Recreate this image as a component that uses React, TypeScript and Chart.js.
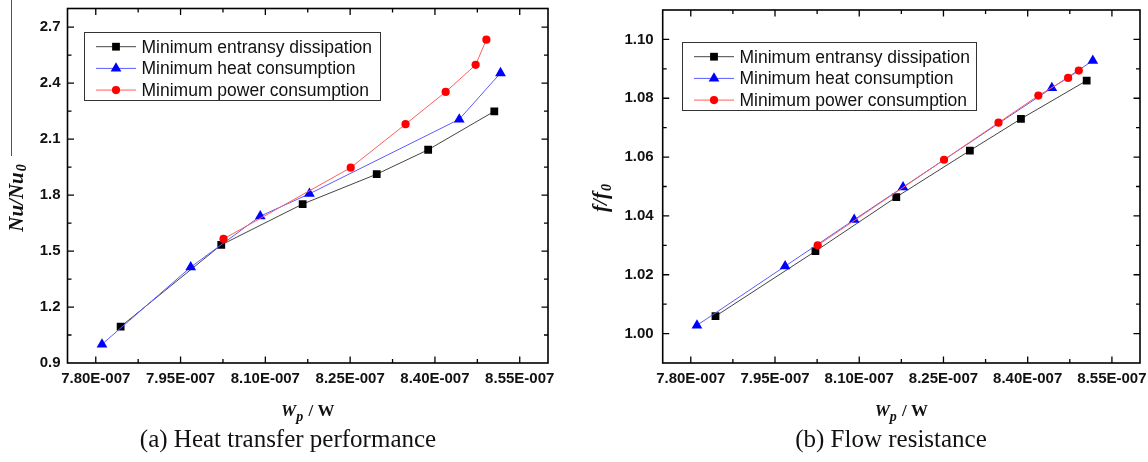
import React, { useEffect, useRef } from "react";
import { Chart, registerables } from "chart.js";

Chart.register(...registerables);

// ---------------- data ----------------
const seriesNames = [
  "Minimum entransy dissipation",
  "Minimum heat consumption",
  "Minimum power consumption",
];

// pumping power Wp (W) for each optimisation criterion
const entransyWp = [7.844e-7, 8.022e-7, 8.166e-7, 8.297e-7, 8.388e-7, 8.505e-7];
const heatWp = [7.811e-7, 7.968e-7, 8.091e-7, 8.178e-7, 8.443e-7, 8.516e-7];
const powerWp = [8.026e-7, 8.251e-7, 8.348e-7, 8.419e-7, 8.472e-7, 8.491e-7];

// (a) Nu/Nu0
const entransyNu = [1.095, 1.533, 1.752, 1.912, 2.043, 2.249];
const heatNu = [1.0, 1.414, 1.687, 1.807, 2.206, 2.454];
const powerNu = [1.565, 1.947, 2.18, 2.353, 2.498, 2.633];

// (b) f/f0
const entransyF = [1.0059, 1.028, 1.0464, 1.0622, 1.073, 1.086];
const heatF = [1.0028, 1.0229, 1.0387, 1.0498, 1.0835, 1.0928];
const powerF = [1.03, 1.0591, 1.0717, 1.0809, 1.0869, 1.0894];

const wpTicks = [7.8e-7, 7.95e-7, 8.1e-7, 8.25e-7, 8.4e-7, 8.55e-7];
const wpTickLabels = ["7.80E-007", "7.95E-007", "8.10E-007", "8.25E-007", "8.40E-007", "8.55E-007"];
const nuTicks = [0.9, 1.2, 1.5, 1.8, 2.1, 2.4, 2.7];
const nuTickLabels = ["0.9", "1.2", "1.5", "1.8", "2.1", "2.4", "2.7"];
const fTicks = [1.0, 1.02, 1.04, 1.06, 1.08, 1.1];
const fTickLabels = ["1.00", "1.02", "1.04", "1.06", "1.08", "1.10"];

const captionA = "(a) Heat transfer performance";
const captionB = "(b) Flow resistance";

// ---------------- styles ----------------
const seriesStyles = [
  { line: "#444444", fill: "#000000", shape: "rect", r: 5.5 },
  { line: "#5c5cff", fill: "#0000ff", shape: "triangle", r: 6.2 },
  { line: "#ff5e5e", fill: "#ff0000", shape: "circle", r: 4.1 },
];

const SANS = '"Liberation Sans", Arial, sans-serif';
const SERIF = '"Liberation Serif", "Times New Roman", serif';

function midpoints(arr: number[]) {
  const out: number[] = [];
  for (let i = 0; i < arr.length - 1; i++) out.push((arr[i] + arr[i + 1]) / 2);
  return out;
}

function drawMarker(ctx: CanvasRenderingContext2D, shape: string, x: number, y: number, r: number, color: string) {
  ctx.fillStyle = color;
  ctx.beginPath();
  if (shape === "rect") {
    const s = Math.SQRT1_2 * r;
    ctx.rect(x - s, y - s, 2 * s, 2 * s);
  } else if (shape === "triangle") {
    ctx.moveTo(x, y - r);
    ctx.lineTo(x + 0.866 * r, y + 0.5 * r);
    ctx.lineTo(x - 0.866 * r, y + 0.5 * r);
    ctx.closePath();
  } else {
    ctx.arc(x, y, r, 0, Math.PI * 2);
  }
  ctx.fill();
}

type PanelProps = {
  left: number;
  width: number;
  height: number;
  area: { left: number; top: number; right: number; bottom: number };
  yVals: number[][];
  yMin: number;
  yMax: number;
  yTicks: number[];
  yLabels: string[];
  yLabelPad: number;
  legend: { x: number; y: number; w: number; h: number };
  yTitleMain: string;
  yTitleSub: string;
  yTitlePos: { x: number; y: number };
};

function Panel(p: PanelProps) {
  const ref = useRef<HTMLCanvasElement | null>(null);

  useEffect(() => {
    if (!ref.current) return;
    const xs = [entransyWp, heatWp, powerWp];
    const datasets = seriesNames.map((name, i) => ({
      label: name,
      data: xs[i].map((x, j) => ({ x, y: p.yVals[i][j] })),
      showLine: true,
      borderColor: seriesStyles[i].line,
      borderWidth: 1,
      pointStyle: seriesStyles[i].shape,
      pointRadius: seriesStyles[i].r,
      pointBackgroundColor: seriesStyles[i].fill,
      pointBorderColor: seriesStyles[i].fill,
      pointBorderWidth: 0,
      order: 3 - i,
    }));

    const decor = {
      id: "decor",
      afterDraw(chart: any) {
        const ctx: CanvasRenderingContext2D = chart.ctx;
        const a = chart.chartArea;
        const xs = chart.scales.x;
        const ys = chart.scales.y;
        ctx.save();
        // ticks (inward on all sides)
        ctx.strokeStyle = "#000";
        ctx.lineWidth = 1.3;
        const MAJ = 6.5;
        const MIN = 4;
        const xMinor = midpoints(wpTicks);
        const yMinor = midpoints(p.yTicks);
        const drawX = (v: number, len: number) => {
          const px = xs.getPixelForValue(v);
          if (px <= a.left + 1 || px >= a.right - 1) return;
          ctx.beginPath();
          ctx.moveTo(px, a.bottom);
          ctx.lineTo(px, a.bottom - len);
          ctx.moveTo(px, a.top);
          ctx.lineTo(px, a.top + len);
          ctx.stroke();
        };
        const drawY = (v: number, len: number) => {
          const py = ys.getPixelForValue(v);
          if (py <= a.top + 1 || py >= a.bottom - 1) return;
          ctx.beginPath();
          ctx.moveTo(a.left, py);
          ctx.lineTo(a.left + len, py);
          ctx.moveTo(a.right, py);
          ctx.lineTo(a.right - len, py);
          ctx.stroke();
        };
        wpTicks.forEach((v) => drawX(v, MAJ));
        xMinor.forEach((v) => drawX(v, MIN));
        p.yTicks.forEach((v) => drawY(v, MAJ));
        yMinor.forEach((v) => drawY(v, MIN));

        // frame
        ctx.lineWidth = 1.6;
        ctx.strokeRect(a.left, a.top, a.right - a.left, a.bottom - a.top);

        // legend
        const L = p.legend;
        ctx.fillStyle = "#fff";
        ctx.fillRect(L.x, L.y, L.w, L.h);
        ctx.lineWidth = 1;
        ctx.strokeStyle = "#333";
        ctx.strokeRect(L.x + 0.5, L.y + 0.5, L.w, L.h);
        ctx.font = `17.5px ${SANS}`;
        ctx.textBaseline = "middle";
        ctx.textAlign = "left";
        seriesNames.forEach((name, i) => {
          const ry = L.y + 14.7 + i * 21.7;
          const st = seriesStyles[i];
          ctx.strokeStyle = st.line;
          ctx.lineWidth = 1;
          ctx.beginPath();
          ctx.moveTo(L.x + 12, ry);
          ctx.lineTo(L.x + 52, ry);
          ctx.stroke();
          drawMarker(ctx, st.shape, L.x + 32, ry, st.r, st.fill);
          ctx.fillStyle = "#111";
          ctx.fillText(name, L.x + 57.5, ry + 1);
        });

        // x title: Wp / W
        const mainF = `bold italic 17px ${SERIF}`;
        const subF = `bold italic 14px ${SERIF}`;
        const restF = `bold 17px ${SERIF}`;
        ctx.textBaseline = "alphabetic";
        ctx.font = mainF;
        const wW = ctx.measureText("W").width;
        ctx.font = subF;
        const wp = ctx.measureText("p").width;
        ctx.font = restF;
        const wr = ctx.measureText(" / W").width;
        const total = wW + wp + 1 + wr;
        let tx = (a.left + a.right) / 2 - total / 2;
        const by = 416;
        ctx.fillStyle = "#111";
        ctx.font = mainF;
        ctx.fillText("W", tx, by);
        tx += wW;
        ctx.font = subF;
        ctx.fillText("p", tx, by + 5);
        tx += wp + 1;
        ctx.font = restF;
        ctx.fillText(" / W", tx, by);

        // y title (rotated)
        ctx.save();
        ctx.translate(p.yTitlePos.x, p.yTitlePos.y);
        ctx.rotate(-Math.PI / 2);
        const yMainF = `bold italic 21px ${SERIF}`;
        const ySubF = `bold italic 14px ${SERIF}`;
        ctx.font = yMainF;
        const m1 = ctx.measureText(p.yTitleMain).width;
        ctx.font = ySubF;
        const m2 = ctx.measureText(p.yTitleSub).width;
        let sx = -(m1 + m2 + 1) / 2;
        ctx.textBaseline = "middle";
        ctx.font = yMainF;
        ctx.fillText(p.yTitleMain, sx, 0);
        sx += m1 + 1;
        ctx.font = ySubF;
        ctx.fillText(p.yTitleSub, sx, 5);
        ctx.restore();

        ctx.restore();
      },
    };

    const chart = new Chart(ref.current, {
      type: "scatter",
      data: { datasets: datasets as any },
      plugins: [decor as any],
      options: {
        animation: false,
        responsive: false,
        maintainAspectRatio: false,
        events: [],
        layout: {
          padding: { left: 0, top: p.area.top, right: p.width - p.area.right, bottom: 0 },
        },
        plugins: { legend: { display: false }, tooltip: { enabled: false } },
        scales: {
          x: {
            type: "linear",
            min: 7.75e-7,
            max: 8.6e-7,
            afterBuildTicks: (s: any) => {
              s.ticks = wpTicks.map((v) => ({ value: v }));
            },
            afterFit: (s: any) => {
              s.height = p.height - p.area.bottom;
              s.paddingLeft = 0;
              s.paddingRight = 0;
            },
            ticks: {
              callback: (_v: any, i: number) => wpTickLabels[i],
              font: { family: SANS, size: 15, weight: "bold" },
              color: "#111",
              padding: 7,
              maxRotation: 0,
              minRotation: 0,
              autoSkip: false,
            },
            grid: { display: false, drawTicks: false },
            border: { display: false },
          },
          y: {
            type: "linear",
            min: p.yMin,
            max: p.yMax,
            afterBuildTicks: (s: any) => {
              s.ticks = p.yTicks.map((v) => ({ value: v }));
            },
            afterFit: (s: any) => {
              s.width = p.area.left;
              s.paddingTop = 0;
              s.paddingBottom = 0;
            },
            ticks: {
              callback: (_v: any, i: number) => p.yLabels[i],
              font: { family: SANS, size: 15, weight: "bold" },
              color: "#111",
              padding: p.yLabelPad,
              autoSkip: false,
            },
            grid: { display: false, drawTicks: false },
            border: { display: false },
          },
        },
      } as any,
    });
    return () => chart.destroy();
  }, []);

  return (
    <canvas
      ref={ref}
      width={p.width}
      height={p.height}
      style={{ position: "absolute", left: p.left, top: 0, width: p.width, height: p.height }}
    />
  );
}

export default function App() {
  const captionStyle = (center: number): React.CSSProperties => ({
    position: "absolute",
    left: center - 250,
    width: 500,
    top: 424,
    textAlign: "center",
    fontFamily: SERIF,
    fontSize: 25,
    lineHeight: "29px",
    color: "#111",
    whiteSpace: "nowrap",
  });
  return (
    <div
      style={{
        position: "fixed",
        left: 0,
        top: 0,
        width: 1148,
        height: 462,
        background: "#fff",
        overflow: "hidden",
      }}
    >
      <Panel
        left={0}
        width={575}
        height={430}
        area={{ left: 67.5, top: 8.5, right: 548, bottom: 363 }}
        yVals={[entransyNu, heatNu, powerNu]}
        yMin={0.9}
        yMax={2.8}
        yTicks={nuTicks}
        yLabels={nuTickLabels}
        yLabelPad={7}
        legend={{ x: 84, y: 32, w: 296, h: 68 }}
        yTitleMain="Nu/Nu"
        yTitleSub="0"
        yTitlePos={{ x: 17.5, y: 198 }}
      />
      <Panel
        left={575}
        width={573}
        height={430}
        area={{ left: 87.7, top: 10, right: 565, bottom: 363 }}
        yVals={[entransyF, heatF, powerF]}
        yMin={0.99}
        yMax={1.11}
        yTicks={fTicks}
        yLabels={fTickLabels}
        yLabelPad={9}
        legend={{ x: 107, y: 42, w: 294, h: 68 }}
        yTitleMain="f/f"
        yTitleSub="0"
        yTitlePos={{ x: 27, y: 198 }}
      />
      <div
        style={{
          position: "absolute",
          left: 11,
          top: 0,
          width: 1.2,
          height: 156,
          background: "#555",
        }}
      />
      <div style={captionStyle(288)}>{captionA}</div>
      <div style={captionStyle(891)}>{captionB}</div>
    </div>
  );
}
